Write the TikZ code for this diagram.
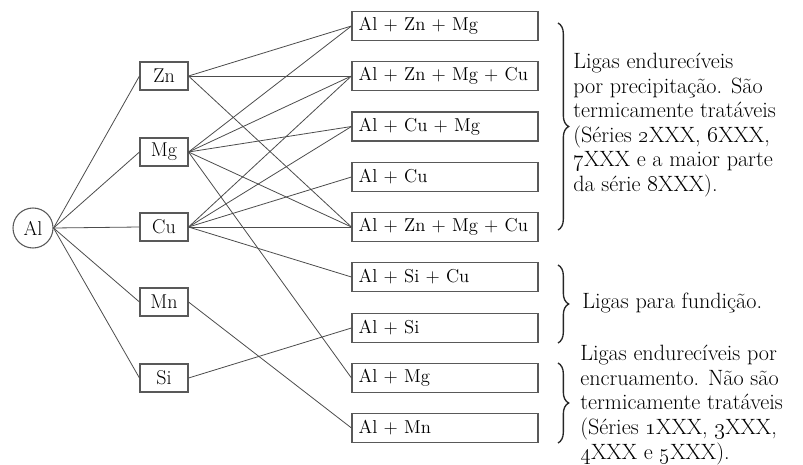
\documentclass[tikz,border=0pt]{standalone}
\usetikzlibrary{decorations.pathreplacing}
\begin{document}
\begin{tikzpicture}[x=0.75pt,y=-0.75pt,
  link/.style={draw=black!70,line width=0.6pt},
  base/.style={draw=black!65,line width=0.8pt,inner sep=0pt,font=\fontsize{14}{16}\selectfont},
  elem/.style={base,minimum width=36pt,minimum height=21pt,font=\fontsize{15}{17}\selectfont},
  alloy/.style={base,minimum height=21.75pt,inner xsep=5pt,text width=129.5pt,align=left},
  note/.style={anchor=west,align=left,inner sep=0pt,font=\fontsize{16.6}{18.4}\selectfont},
  bracestyle/.style={decorate,decoration={brace,amplitude=8pt},line width=1pt,draw=black!85}]
\useasboundingbox (0,0) rectangle (803,464);

% base metal
\node[base,circle,minimum size=30pt,font=\fontsize{15}{17}\selectfont] (Al) at (33,228) {Al};

% alloying elements
\node[elem] (Zn) at (164,76)  {Zn};
\node[elem] (Mg) at (164,152) {Mg};
\node[elem] (Cu) at (164,227) {Cu};
\node[elem] (Mn) at (164,302) {Mn};
\node[elem] (Si) at (164,378) {Si};

% alloy systems
\node[alloy] (a1) at (445,26)  {Al + Zn + Mg};
\node[alloy] (a2) at (445,76)  {Al + Zn + Mg + Cu};
\node[alloy] (a3) at (445,126.5) {Al + Cu + Mg};
\node[alloy] (a4) at (445,177) {Al + Cu};
\node[alloy] (a5) at (445,227) {Al + Zn + Mg + Cu};
\node[alloy] (a6) at (445,277) {Al + Si + Cu};
\node[alloy] (a7) at (445,328) {Al + Si};
\node[alloy] (a8) at (445,378) {Al + Mg};
\node[alloy] (a9) at (445,428) {Al + Mn};

% Al to each element
\foreach \e in {Zn,Mg,Cu,Mn,Si}
  \draw[link] (Al.east) -- (\e.west);

% elements to alloy systems
\foreach \a in {a1,a2,a5}
  \draw[link] (Zn.east) -- (\a.west);
\foreach \a in {a1,a2,a3,a5,a8}
  \draw[link] (Mg.east) -- (\a.west);
\foreach \a in {a2,a3,a4,a5,a6}
  \draw[link] (Cu.east) -- (\a.west);
\draw[link] (Mn.east) -- (a9.west);
\draw[link] (Si.east) -- (a7.west);

% groupings
\coordinate (b1t) at (558,23);  \coordinate (b1b) at (558,230);
\coordinate (b2t) at (558,265); \coordinate (b2b) at (558,343);
\coordinate (b3t) at (558,363); \coordinate (b3b) at (558,443);
\draw[bracestyle] (b1t) -- (b1b);
\draw[bracestyle] (b2t) -- (b2b);
\draw[bracestyle] (b3t) -- (b3b);

\node[note] (n1) at (573,125) {Ligas endurecíveis\\por precipitação. São\\termicamente tratáveis\\(Séries \oldstylenums{2}XXX, \oldstylenums{6}XXX,\\\oldstylenums{7}XXX e a maior parte\\da série \oldstylenums{8}XXX).};
\node[note] (n2) at (582,303) {Ligas para fundição.};
\node[note] (n3) at (580,405) {Ligas endurecíveis por\\encruamento. Não são\\termicamente tratáveis\\(Séries \oldstylenums{1}XXX, \oldstylenums{3}XXX,\\\oldstylenums{4}XXX e \oldstylenums{5}XXX).};
\end{tikzpicture}
\end{document}
